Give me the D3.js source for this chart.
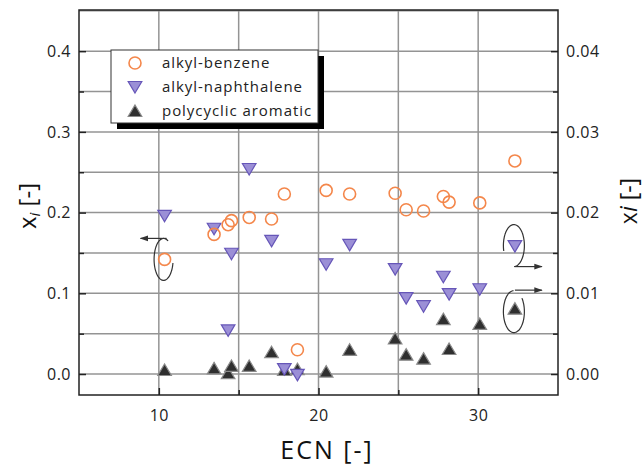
<!DOCTYPE html>
<html>
<head>
<meta charset="utf-8">
<script src="https://cdn.jsdelivr.net/npm/d3@7"></script>
<style>
  html, body { margin: 0; padding: 0; background: #fff; }
  svg { display: block; font-family: "Open Sans", "DejaVu Sans", sans-serif; }
</style>
</head>
<body>
<svg id="chart" width="644" height="469"></svg>
<script>
// Equivalent carbon number of each compound
const ecn = [10.36, 13.46, 14.34, 14.55, 15.66, 17.06, 17.86, 18.68, 20.48, 21.95,
             24.8, 25.49, 26.58, 27.82, 28.18, 30.1, 32.3];

// Mole fractions (left axis)
const alkylBenzene = [0.142, 0.173, 0.185, 0.190, 0.194, 0.192, 0.223, 0.030, 0.2275, 0.223,
                      0.224, 0.2035, 0.202, 0.220, 0.213, 0.212, 0.264];
const alkylNaphthalene = [0.196, 0.180, 0.054, 0.149, 0.254, 0.165, 0.006, -0.001, 0.136, 0.160,
                          0.130, 0.094, 0.084, 0.1205, 0.099, 0.105, 0.1585];
// Mole fractions (right axis)
const polycyclic = [0.0005, 0.0007, 0.0001, 0.0010, 0.0010, 0.0027, 0.0005, 0.0006, 0.0003, 0.0030,
                    0.0044, 0.0024, 0.0019, 0.0068, 0.0031, 0.0062, 0.0081];

const xTicks = [10, 20, 30];
const yLeftTicks = [0.0, 0.1, 0.2, 0.3, 0.4];
const yRightTicks = [0.00, 0.01, 0.02, 0.03, 0.04];
const seriesNames = ["alkyl-benzene", "alkyl-naphthalene", "polycyclic aromatic"];

const svg = d3.select("#chart");
const L = 79, R = 558, T = 10, B = 395;

const x = d3.scaleLinear().domain([5, 35]).range([L, R]);
const y = d3.scaleLinear().domain([-0.026, 0.451]).range([B, T]);
const y2 = d3.scaleLinear().domain([-0.0026, 0.0451]).range([B, T]);

const gridColor = "#949494";
const orange = "#f4874b";
const purpleFill = "#9b8fd6";
const purpleStroke = "#6656b8";
const darkFill = "#2f2f2f";
const darkStroke = "#8a8a8a";

// Grid
const grid = svg.append("g");
grid.selectAll("line.gx").data(d3.range(10, 35, 5)).join("line")
  .attr("x1", d => x(d)).attr("x2", d => x(d)).attr("y1", T).attr("y2", B)
  .attr("stroke", gridColor).attr("stroke-width", 1.5);
grid.selectAll("line.gy").data(d3.range(0, 0.451, 0.05)).join("line")
  .attr("y1", d => y(d)).attr("y2", d => y(d)).attr("x1", L).attr("x2", R)
  .attr("stroke", gridColor).attr("stroke-width", 1.5);

// Axes with inward ticks
const tickFont = 16;
const ax = svg.append("g").attr("transform", `translate(0,${B})`)
  .call(d3.axisBottom(x).tickValues(xTicks).tickFormat(d3.format("d")).tickSizeInner(-7).tickSizeOuter(0).tickPadding(15));
const axMinor = svg.append("g").attr("transform", `translate(0,${B})`)
  .call(d3.axisBottom(x).tickValues([15, 25]).tickFormat("").tickSizeInner(-5).tickSizeOuter(0));
const ayl = svg.append("g").attr("transform", `translate(${L},0)`)
  .call(d3.axisLeft(y).tickValues(yLeftTicks).tickFormat(d3.format(".1f")).tickSizeInner(-7).tickSizeOuter(0).tickPadding(8));
const aylMinor = svg.append("g").attr("transform", `translate(${L},0)`)
  .call(d3.axisLeft(y).tickValues([0.05, 0.15, 0.25, 0.35]).tickFormat("").tickSizeInner(-5).tickSizeOuter(0));
const ayr = svg.append("g").attr("transform", `translate(${R},0)`)
  .call(d3.axisRight(y2).tickValues(yRightTicks).tickFormat(d3.format(".2f")).tickSizeInner(-7).tickSizeOuter(0).tickPadding(8));
const ayrMinor = svg.append("g").attr("transform", `translate(${R},0)`)
  .call(d3.axisRight(y2).tickValues([0.005, 0.015, 0.025, 0.035]).tickFormat("").tickSizeInner(-5).tickSizeOuter(0));

[ax, axMinor, ayl, aylMinor, ayr, ayrMinor].forEach(g => {
  g.select(".domain").remove();
  g.selectAll(".tick line").attr("stroke", "#222").attr("stroke-width", 1.5);
  g.selectAll(".tick text").attr("font-size", tickFont).attr("fill", "#222")
    .attr("letter-spacing", 0.5)
    .attr("font-family", "\"Open Sans\", sans-serif");
});

// Frame
svg.append("rect").attr("x", L).attr("y", T).attr("width", R - L).attr("height", B - T)
  .attr("fill", "none").attr("stroke", "#222").attr("stroke-width", 1.5);

// Marker shapes
const triUp = (cx, cy) => `M${cx},${cy - 6}L${cx + 6.8},${cy + 5.5}L${cx - 6.8},${cy + 5.5}Z`;
const triDown = (cx, cy) => `M${cx},${cy + 6}L${cx + 6.8},${cy - 5.5}L${cx - 6.8},${cy - 5.5}Z`;

const marks = svg.append("g");
// polycyclic aromatic (right axis)
marks.selectAll("path.pa").data(ecn.map((e, i) => [e, polycyclic[i]])).join("path")
  .attr("d", d => triUp(x(d[0]), y2(d[1])))
  .attr("fill", darkFill).attr("stroke", darkStroke).attr("stroke-width", 1.2);
// alkyl-naphthalene
marks.selectAll("path.an").data(ecn.map((e, i) => [e, alkylNaphthalene[i]])).join("path")
  .attr("d", d => triDown(x(d[0]), y(d[1])))
  .attr("fill", purpleFill).attr("stroke", purpleStroke).attr("stroke-width", 1.2);
// alkyl-benzene
marks.selectAll("circle.ab").data(ecn.map((e, i) => [e, alkylBenzene[i]])).join("circle")
  .attr("cx", d => x(d[0])).attr("cy", d => y(d[1])).attr("r", 6)
  .attr("fill", "none").attr("stroke", orange).attr("stroke-width", 1.6);

// Axis-assignment annotations: open ellipses with arrows
svg.append("defs").append("marker")
  .attr("id", "ah").attr("viewBox", "0 0 10 10").attr("refX", 9).attr("refY", 5)
  .attr("markerWidth", 7).attr("markerHeight", 7).attr("orient", "auto")
  .append("path").attr("d", "M0,1.5L10,5L0,8.5Z").attr("fill", "#333");

function ellipseArc(cx, cy, rx, ry, a0, a1) {
  const pts = d3.range(a0, a1 + 0.5, 4).map(a => {
    const t = a * Math.PI / 180;
    return [cx + rx * Math.cos(t), cy + ry * Math.sin(t)];
  });
  return d3.line().curve(d3.curveBasis)(pts);
}
const ann = svg.append("g").attr("fill", "none").attr("stroke", "#333").attr("stroke-width", 1.2);
// left: alkyl-benzene / alkyl-naphthalene use the left axis
const la = [x(ecn[0]), y(alkylBenzene[0])];
ann.append("path").attr("d", ellipseArc(la[0] - 1, la[1], 9.5, 21, 10, 300));
ann.append("line").attr("x1", la[0] + 2).attr("y1", la[1] - 21).attr("x2", la[0] - 24).attr("y2", la[1] - 21)
  .attr("marker-end", "url(#ah)");
// right upper: naphthalene point, left axis
const ra = [x(ecn[16]), y(alkylNaphthalene[16])];
ann.append("path").attr("d", ellipseArc(ra[0] - 1, ra[1] - 0.5, 10.5, 21, 165, 450));
ann.append("line").attr("x1", ra[0]).attr("y1", ra[1] + 20.5).attr("x2", ra[0] + 27).attr("y2", ra[1] + 20.5)
  .attr("marker-end", "url(#ah)");
// right lower: polycyclic point, right axis
const rb = [x(ecn[16]), y2(polycyclic[16])];
ann.append("path").attr("d", ellipseArc(rb[0] - 1, rb[1] + 3, 10.5, 21, -40, 270));
ann.append("line").attr("x1", rb[0]).attr("y1", rb[1] - 18.5).attr("x2", rb[0] + 27).attr("y2", rb[1] - 18.5)
  .attr("marker-end", "url(#ah)");

// Legend
const lg = svg.append("g");
lg.append("rect").attr("x", 117).attr("y", 56).attr("width", 207).attr("height", 73).attr("fill", "#000");
lg.append("rect").attr("x", 111).attr("y", 50).attr("width", 207).attr("height", 73)
  .attr("fill", "#fff").attr("stroke", "#333").attr("stroke-width", 1);
const ly = [63, 87, 111];
lg.append("circle").attr("cx", 135).attr("cy", ly[0]).attr("r", 6)
  .attr("fill", "none").attr("stroke", orange).attr("stroke-width", 1.6);
lg.append("path").attr("d", triDown(135, ly[1])).attr("fill", purpleFill).attr("stroke", purpleStroke).attr("stroke-width", 1.2);
lg.append("path").attr("d", triUp(135, ly[2])).attr("fill", darkFill).attr("stroke", darkStroke).attr("stroke-width", 1.2);
lg.selectAll("text").data(seriesNames).join("text")
  .attr("x", 162).attr("y", (d, i) => ly[i]).attr("dy", "0.35em")
  .attr("font-size", 15).attr("fill", "#222").attr("letter-spacing", 0.95).text(d => d);

// Axis titles
svg.append("text").attr("x", 327).attr("y", 459).attr("text-anchor", "middle")
  .attr("font-size", 25).attr("letter-spacing", 2).attr("fill", "#111").text("ECN [-]");

const yl = svg.append("text").attr("transform", "translate(36,206) rotate(-90)")
  .attr("text-anchor", "middle").attr("font-size", 24).attr("fill", "#111");
yl.append("tspan").text("x");
yl.append("tspan").attr("font-style", "italic").attr("font-size", 15).attr("dy", 4).text("i");
yl.append("tspan").attr("dy", -4).text(" [-]");

const yr = svg.append("text").attr("transform", "translate(637,201) rotate(-90)")
  .attr("text-anchor", "middle").attr("font-size", 23).attr("fill", "#111");
yr.append("tspan").text("x");
yr.append("tspan").attr("font-style", "italic").text("i");
yr.append("tspan").text(" [-]");
</script>
</body>
</html>
